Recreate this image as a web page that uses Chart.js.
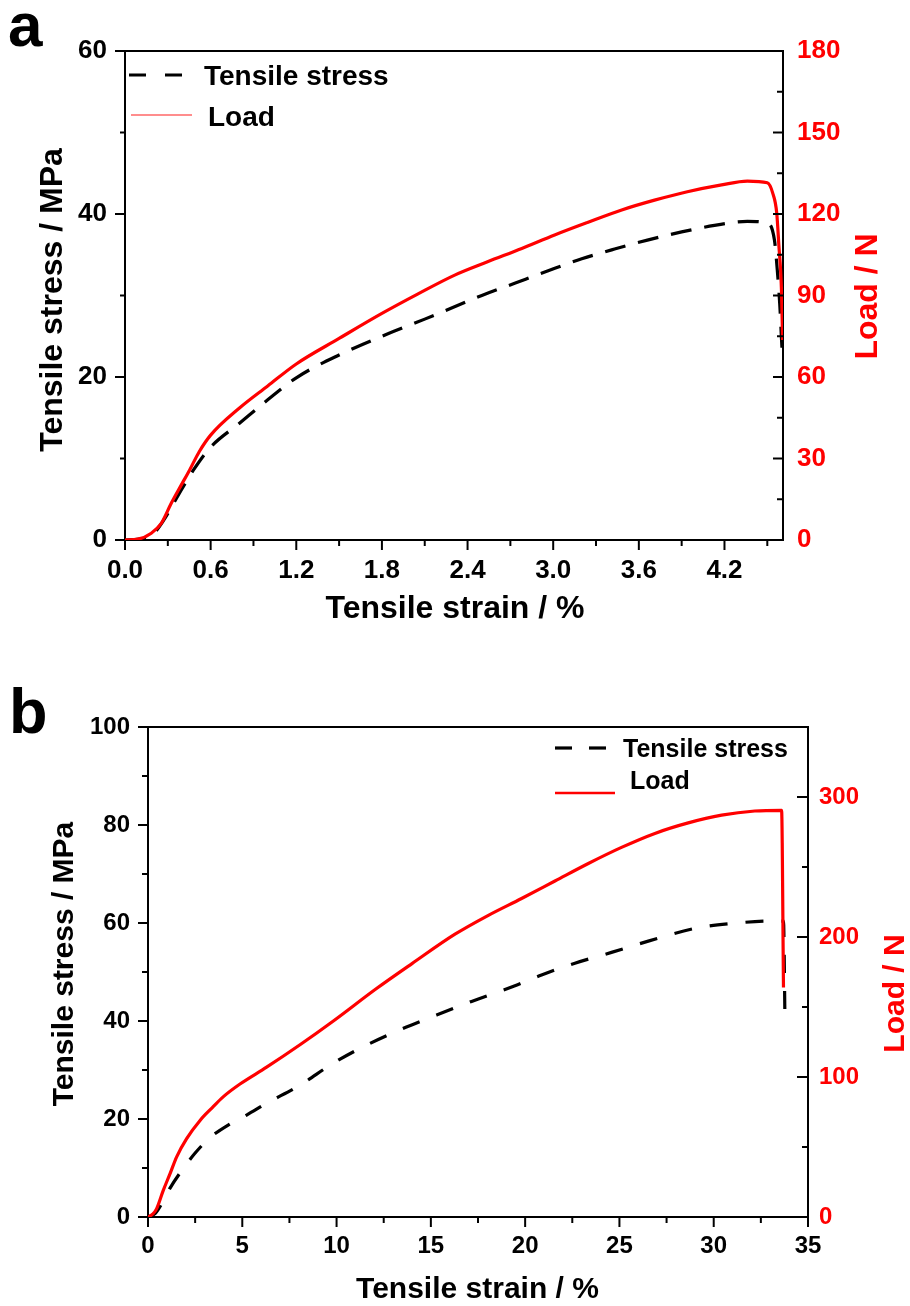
<!DOCTYPE html>
<html>
<head>
<meta charset="utf-8">
<title>Tensile stress / Load</title>
<script src="https://cdn.jsdelivr.net/npm/chart.js@4.4.1/dist/chart.umd.min.js"></script>
<style>
  html, body { margin: 0; padding: 0; background: #fff; }
  body { width: 910px; height: 1306px; position: relative; overflow: hidden; font-family: "Liberation Sans", Arial, sans-serif; }
  .panel { position: absolute; left: 0; width: 910px; }
  .panel canvas { display: block; }
  .tag { position: absolute; font-weight: bold; line-height: 1; color: #000; }
</style>
</head>
<body>
<div class="panel" style="top:0; height:650px;"><canvas id="chart-a" width="910" height="650"></canvas></div>
<div class="panel" style="top:650px; height:656px;"><canvas id="chart-b" width="910" height="656"></canvas></div>
<div class="tag" style="left:8px; top:-6px; font-size:62px;">a</div>
<div class="tag" style="left:9px; top:680px; font-size:63px;">b</div>
<script>
const RED = "#ff0000";
const FONT = "'Liberation Sans', Arial, sans-serif";

// ---- panel a : tensile strain (%) vs stress (MPa) / load (N)
const A_STRESS_STRAIN = [0, 0.1, 0.2, 0.27, 0.36, 0.48, 0.6, 0.8, 1.0, 1.2, 1.5, 1.8, 2.1, 2.5, 2.73, 2.96, 3.2, 3.43, 3.66, 3.9, 4.13, 4.36, 4.5, 4.55, 4.57, 4.587, 4.6, 4.607];
const A_STRESS = [0, 0.1, 0.8, 2.4, 5.1, 8.6, 11.4, 14.3, 17.2, 19.9, 22.7, 25.0, 27.1, 30.0, 31.5, 33.0, 34.5, 35.7, 36.8, 37.8, 38.6, 39.1, 38.9, 36.8, 33.1, 29.0, 24.5, 22.1];
const A_LOAD_STRAIN = [0, 0.09, 0.184, 0.254, 0.324, 0.394, 0.453, 0.52, 0.6, 0.8, 1.0, 1.2, 1.5, 1.8, 2.05, 2.31, 2.54, 2.78, 3.01, 3.24, 3.48, 3.71, 3.94, 4.18, 4.36, 4.5, 4.538, 4.566, 4.58, 4.6, 4.607];
const A_LOAD = [0, 0.3, 2.5, 6.1, 13.5, 20.2, 25.8, 32.5, 38.6, 48.5, 56.7, 64.8, 74.2, 83.4, 90.5, 97.5, 102.4, 107.3, 112.3, 116.9, 121.5, 125.1, 128.2, 130.7, 132.1, 131.5, 127.7, 120.4, 109.3, 90.9, 73.6];

const A_X_TICKS = [0, 0.6, 1.2, 1.8, 2.4, 3.0, 3.6, 4.2];
const A_X_MINOR = [0.3, 0.9, 1.5, 2.1, 2.7, 3.3, 3.9, 4.5];
const A_Y_TICKS = [0, 20, 40, 60];
const A_Y_MINOR = [10, 30, 50];
const A_Y1_TICKS = [0, 30, 60, 90, 120, 150, 180];
const A_Y1_MINOR = [15, 45, 75, 105, 135, 165];

// ---- panel b
const B_STRESS_STRAIN = [0, 0.4, 0.8, 1.17, 1.7, 2.49, 3.29, 4.35, 5.23, 6.29, 8.06, 9.83, 11.6, 13.36, 15.1, 17.16, 19.46, 20.87, 22.64, 24.58, 26.53, 29.0, 30.95, 33.07, 33.7, 33.78];
const B_STRESS = [0, 0.8, 3.2, 5.9, 9.0, 13.0, 16.2, 19.0, 20.8, 23.2, 26.9, 31.4, 35.1, 38.2, 40.9, 44.0, 47.2, 49.4, 51.8, 54.0, 56.3, 58.9, 59.9, 60.4, 60.4, 39.8];
const B_LOAD_STRAIN = [0, 0.25, 0.46, 0.81, 1.17, 1.52, 2.05, 2.76, 3.4, 4.0, 4.88, 6.29, 8.06, 9.83, 12.1, 14.0, 16.28, 18.05, 19.81, 21.58, 23.35, 25.11, 26.88, 28.65, 30.42, 32.18, 33.6, 33.7];
const B_LOAD = [0, 2, 6, 19, 31, 43, 56, 69, 78, 86, 95, 107, 123, 140, 163, 181, 202, 215.5, 227.5, 240, 252.5, 264, 274, 281.5, 287, 290, 290.5, 164];

const B_X_TICKS = [0, 5, 10, 15, 20, 25, 30, 35];
const B_X_MINOR = [2.5, 7.5, 12.5, 17.5, 22.5, 27.5, 32.5];
const B_Y_TICKS = [0, 20, 40, 60, 80, 100];
const B_Y_MINOR = [10, 30, 50, 70, 90];
const B_Y1_TICKS = [0, 100, 200, 300];
const B_Y1_MINOR = [50, 150, 250];

const SERIES_NAMES = ["Tensile stress", "Load"];

function zip(xs, ys) {
  return xs.map((x, i) => ({ x, y: ys[i] }));
}

/** Ticks, top frame, legend and axis titles */
const decorPlugin = {
  id: "decor",
  afterDraw(chart, args, opts) {
    const ctx = chart.ctx;
    const area = chart.chartArea;
    ctx.save();
    ctx.strokeStyle = "#000";
    ctx.lineWidth = 2;
    ctx.setLineDash([]);
    ctx.beginPath();
    ctx.moveTo(area.left - 1, area.top);
    ctx.lineTo(area.right + 1, area.top);
    ctx.stroke();

    (opts.marks || []).forEach((m) => {
      const scale = chart.scales[m.scale];
      m.values.forEach((v) => {
        const p = scale.getPixelForValue(v);
        ctx.beginPath();
        if (m.side === "bottom") {
          ctx.moveTo(p, area.bottom);
          ctx.lineTo(p, area.bottom + m.len);
        } else if (m.side === "left") {
          ctx.moveTo(area.left, p);
          ctx.lineTo(area.left - m.len, p);
        } else {
          ctx.moveTo(area.right, p);
          ctx.lineTo(area.right - m.len, p);
        }
        ctx.stroke();
      });
    });

    (opts.legend || []).forEach((item) => {
      ctx.strokeStyle = item.color;
      ctx.lineWidth = item.width;
      ctx.setLineDash(item.dash || []);
      ctx.beginPath();
      ctx.moveTo(item.x1, item.y);
      ctx.lineTo(item.x2, item.y);
      ctx.stroke();
      ctx.setLineDash([]);
      ctx.fillStyle = "#000";
      ctx.font = item.font;
      ctx.textAlign = "left";
      ctx.textBaseline = "alphabetic";
      ctx.fillText(item.text, item.tx, item.ty);
    });

    (opts.titles || []).forEach((t) => {
      ctx.save();
      ctx.translate(t.x, t.y);
      if (t.rotate) ctx.rotate(-Math.PI / 2);
      ctx.fillStyle = t.color;
      ctx.font = t.font;
      ctx.textAlign = "center";
      ctx.textBaseline = "alphabetic";
      ctx.fillText(t.text, 0, 0);
      ctx.restore();
    });
    ctx.restore();
  }
};

function axis(opts) {
  return {
    type: "linear",
    position: opts.position,
    min: opts.min,
    max: opts.max,
    grid: { display: false, drawTicks: false },
    border: { display: true, color: "#000", width: 2 },
    ticks: {
      autoSkip: false,
      maxRotation: 0,
      includeBounds: false,
      padding: opts.padding,
      color: opts.color || "#000",
      font: { family: FONT, size: opts.fontSize, weight: "bold" },
      callback: opts.format || ((v) => String(v))
    },
    afterBuildTicks: (scale) => {
      scale.ticks = opts.ticks.map((v) => ({ value: v }));
    },
    afterFit: (scale) => {
      if (opts.position === "bottom") scale.height = opts.size;
      else scale.width = opts.size;
    }
  };
}

function lineDataset(label, points, axisId, color, dash) {
  return {
    label,
    data: points,
    yAxisID: axisId,
    borderColor: color,
    borderWidth: 3.2,
    borderDash: dash,
    pointRadius: 0,
    fill: false,
    cubicInterpolationMode: "monotone"
  };
}

function buildChart(canvasId, cfg) {
  return new Chart(document.getElementById(canvasId), {
    type: "line",
    data: {
      datasets: [
        lineDataset(SERIES_NAMES[1], cfg.load, "y1", RED, []),
        lineDataset(SERIES_NAMES[0], cfg.stress, "y", "#000", cfg.dash)
      ]
    },
    options: {
      responsive: false,
      animation: false,
      devicePixelRatio: 1,
      layout: { padding: { top: cfg.top, left: 0, right: 0, bottom: 0 } },
      scales: cfg.scales,
      plugins: {
        legend: { display: false },
        tooltip: { enabled: false },
        decor: cfg.decor
      }
    },
    plugins: [decorPlugin]
  });
}

// panel a
buildChart("chart-a", {
  top: 51,
  dash: [21, 13],
  load: zip(A_LOAD_STRAIN, A_LOAD),
  stress: zip(A_STRESS_STRAIN, A_STRESS),
  scales: {
    x: axis({ position: "bottom", min: 0, max: 4.61, ticks: A_X_TICKS, padding: 15, fontSize: 26, size: 110, format: (v) => Number(v).toFixed(1) }),
    y: axis({ position: "left", min: 0, max: 60, ticks: A_Y_TICKS, padding: 18, fontSize: 26, size: 125 }),
    y1: axis({ position: "right", min: 0, max: 180, ticks: A_Y1_TICKS, padding: 14, fontSize: 26, size: 127, color: RED })
  },
  decor: {
    marks: [
      { scale: "x", side: "bottom", values: A_X_TICKS, len: 10 },
      { scale: "x", side: "bottom", values: A_X_MINOR, len: 6 },
      { scale: "y", side: "left", values: A_Y_TICKS, len: 10 },
      { scale: "y", side: "left", values: A_Y_MINOR, len: 5 },
      { scale: "y1", side: "right", values: A_Y1_TICKS, len: 10 },
      { scale: "y1", side: "right", values: A_Y1_MINOR, len: 6 }
    ],
    legend: [
      { text: SERIES_NAMES[0], x1: 129, x2: 183, y: 75, color: "#000", width: 3.2, dash: [17, 19], tx: 204, ty: 85, font: "bold 28px " + FONT },
      { text: SERIES_NAMES[1], x1: 131, x2: 192, y: 115, color: "rgba(255,0,0,0.6)", width: 1.5, tx: 208, ty: 126, font: "bold 28px " + FONT }
    ],
    titles: [
      { text: "Tensile strain / %", x: 455, y: 618, color: "#000", font: "bold 32px " + FONT },
      { text: "Tensile stress / MPa", x: 61.5, y: 300, rotate: true, color: "#000", font: "bold 32px " + FONT },
      { text: "Load / N", x: 877, y: 296.5, rotate: true, color: RED, font: "bold 32px " + FONT }
    ]
  }
});

// panel b
buildChart("chart-b", {
  top: 77,
  dash: [18, 18],
  load: zip(B_LOAD_STRAIN, B_LOAD),
  stress: zip(B_STRESS_STRAIN, B_STRESS),
  scales: {
    x: axis({ position: "bottom", min: 0, max: 35, ticks: B_X_TICKS, padding: 15, fontSize: 24, size: 89 }),
    y: axis({ position: "left", min: 0, max: 100, ticks: B_Y_TICKS, padding: 18, fontSize: 24, size: 148 }),
    y1: axis({ position: "right", min: 0, max: 350, ticks: B_Y1_TICKS, padding: 11, fontSize: 24, size: 102, color: RED })
  },
  decor: {
    marks: [
      { scale: "x", side: "bottom", values: B_X_TICKS, len: 10 },
      { scale: "x", side: "bottom", values: B_X_MINOR, len: 6 },
      { scale: "y", side: "left", values: B_Y_TICKS, len: 10 },
      { scale: "y", side: "left", values: B_Y_MINOR, len: 6 },
      { scale: "y1", side: "right", values: B_Y1_TICKS, len: 11 },
      { scale: "y1", side: "right", values: B_Y1_MINOR, len: 6 }
    ],
    legend: [
      { text: SERIES_NAMES[0], x1: 555, x2: 607, y: 98, color: "#000", width: 3.2, dash: [17, 17], tx: 623, ty: 107, font: "bold 25px " + FONT },
      { text: SERIES_NAMES[1], x1: 555, x2: 615, y: 143, color: RED, width: 2.5, tx: 630, ty: 139, font: "bold 25px " + FONT }
    ],
    titles: [
      { text: "Tensile strain / %", x: 477.5, y: 648, color: "#000", font: "bold 30px " + FONT },
      { text: "Tensile stress / MPa", x: 72.5, y: 314, rotate: true, color: "#000", font: "bold 30px " + FONT },
      { text: "Load / N", x: 904, y: 343.5, rotate: true, color: RED, font: "bold 30px " + FONT }
    ]
  }
});
</script>
</body>
</html>
